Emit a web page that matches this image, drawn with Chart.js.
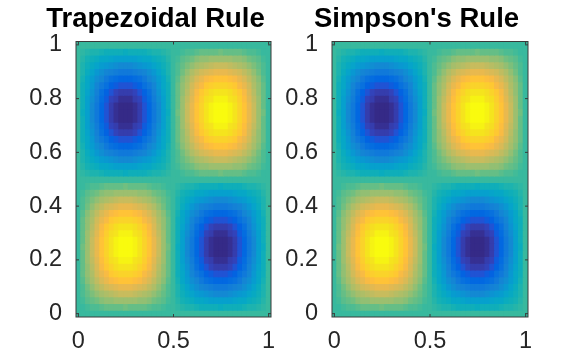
<!DOCTYPE html>
<html>
<head>
<meta charset="utf-8">
<script src="https://cdn.jsdelivr.net/npm/chart.js@4/dist/chart.umd.min.js"></script>
<style>
html, body { margin: 0; padding: 0; background: #fff; }
canvas { position: absolute; top: 0; }
#trapezoidal { left: 0; }
#simpson { left: 272px; }
</style>
</head>
<body>
<canvas id="simpson" width="292" height="357"></canvas>
<canvas id="trapezoidal" width="292" height="357"></canvas>
<script>
const gridX = [0,0.025,0.05,0.075,0.1,0.125,0.15,0.175,0.2,0.225,0.25,0.275,0.3,0.325,0.35,0.375,0.4,0.425,0.45,0.475,0.5,0.525,0.55,0.575,0.6,0.625,0.65,0.675,0.7,0.725,0.75,0.775,0.8,0.825,0.85,0.875,0.9,0.925,0.95,0.975,1];
const gridY = [1,0.975,0.95,0.925,0.9,0.875,0.85,0.825,0.8,0.775,0.75,0.725,0.7,0.675,0.65,0.625,0.6,0.575,0.55,0.525,0.5,0.475,0.45,0.425,0.4,0.375,0.35,0.325,0.3,0.275,0.25,0.225,0.2,0.175,0.15,0.125,0.1,0.075,0.05,0.025,0];
const xTickValues = [0, 0.5, 1];
const yTickValues = [0, 0.2, 0.4, 0.6, 0.8, 1];

// surface, percent of peak, top row first
const surfaceValues = [
[0,0,0,0,0,0,0,0,0,0,0,0,0,0,0,0,0,0,0,0,0,0,0,0,0,0,0,0,0,0,0,0,0,0,0,0,0,0,0,0,0],
[0,-2,-5,-7,-9,-11,-13,-14,-15,-15,-16,-15,-15,-14,-13,-11,-9,-7,-5,-2,0,2,5,7,9,11,13,14,15,15,16,15,15,14,13,11,9,7,5,2,0],
[0,-5,-10,-14,-18,-22,-25,-28,-29,-31,-31,-31,-29,-28,-25,-22,-18,-14,-10,-5,0,5,10,14,18,22,25,28,29,31,31,31,29,28,25,22,18,14,10,5,0],
[0,-7,-14,-21,-27,-32,-37,-40,-43,-45,-45,-45,-43,-40,-37,-32,-27,-21,-14,-7,0,7,14,21,27,32,37,40,43,45,45,45,43,40,37,32,27,21,14,7,0],
[0,-9,-18,-27,-35,-42,-48,-52,-56,-58,-59,-58,-56,-52,-48,-42,-35,-27,-18,-9,0,9,18,27,35,42,48,52,56,58,59,58,56,52,48,42,35,27,18,9,0],
[0,-11,-22,-32,-42,-50,-57,-63,-67,-70,-71,-70,-67,-63,-57,-50,-42,-32,-22,-11,0,11,22,32,42,50,57,63,67,70,71,70,67,63,57,50,42,32,22,11,0],
[0,-13,-25,-37,-48,-57,-65,-72,-77,-80,-81,-80,-77,-72,-65,-57,-48,-37,-25,-13,0,13,25,37,48,57,65,72,77,80,81,80,77,72,65,57,48,37,25,13,0],
[0,-14,-28,-40,-52,-63,-72,-79,-85,-88,-89,-88,-85,-79,-72,-63,-52,-40,-28,-14,0,14,28,40,52,63,72,79,85,88,89,88,85,79,72,63,52,40,28,14,0],
[0,-15,-29,-43,-56,-67,-77,-85,-90,-94,-95,-94,-90,-85,-77,-67,-56,-43,-29,-15,0,15,29,43,56,67,77,85,90,94,95,94,90,85,77,67,56,43,29,15,0],
[0,-15,-31,-45,-58,-70,-80,-88,-94,-98,-99,-98,-94,-88,-80,-70,-58,-45,-31,-15,0,15,31,45,58,70,80,88,94,98,99,98,94,88,80,70,58,45,31,15,0],
[0,-16,-31,-45,-59,-71,-81,-89,-95,-99,-100,-99,-95,-89,-81,-71,-59,-45,-31,-16,0,16,31,45,59,71,81,89,95,99,100,99,95,89,81,71,59,45,31,16,0],
[0,-15,-31,-45,-58,-70,-80,-88,-94,-98,-99,-98,-94,-88,-80,-70,-58,-45,-31,-15,0,15,31,45,58,70,80,88,94,98,99,98,94,88,80,70,58,45,31,15,0],
[0,-15,-29,-43,-56,-67,-77,-85,-90,-94,-95,-94,-90,-85,-77,-67,-56,-43,-29,-15,0,15,29,43,56,67,77,85,90,94,95,94,90,85,77,67,56,43,29,15,0],
[0,-14,-28,-40,-52,-63,-72,-79,-85,-88,-89,-88,-85,-79,-72,-63,-52,-40,-28,-14,0,14,28,40,52,63,72,79,85,88,89,88,85,79,72,63,52,40,28,14,0],
[0,-13,-25,-37,-48,-57,-65,-72,-77,-80,-81,-80,-77,-72,-65,-57,-48,-37,-25,-13,0,13,25,37,48,57,65,72,77,80,81,80,77,72,65,57,48,37,25,13,0],
[0,-11,-22,-32,-42,-50,-57,-63,-67,-70,-71,-70,-67,-63,-57,-50,-42,-32,-22,-11,0,11,22,32,42,50,57,63,67,70,71,70,67,63,57,50,42,32,22,11,0],
[0,-9,-18,-27,-35,-42,-48,-52,-56,-58,-59,-58,-56,-52,-48,-42,-35,-27,-18,-9,0,9,18,27,35,42,48,52,56,58,59,58,56,52,48,42,35,27,18,9,0],
[0,-7,-14,-21,-27,-32,-37,-40,-43,-45,-45,-45,-43,-40,-37,-32,-27,-21,-14,-7,0,7,14,21,27,32,37,40,43,45,45,45,43,40,37,32,27,21,14,7,0],
[0,-5,-10,-14,-18,-22,-25,-28,-29,-31,-31,-31,-29,-28,-25,-22,-18,-14,-10,-5,0,5,10,14,18,22,25,28,29,31,31,31,29,28,25,22,18,14,10,5,0],
[0,-2,-5,-7,-9,-11,-13,-14,-15,-15,-16,-15,-15,-14,-13,-11,-9,-7,-5,-2,0,2,5,7,9,11,13,14,15,15,16,15,15,14,13,11,9,7,5,2,0],
[0,0,0,0,0,0,0,0,0,0,0,0,0,0,0,0,0,0,0,0,0,0,0,0,0,0,0,0,0,0,0,0,0,0,0,0,0,0,0,0,0],
[0,2,5,7,9,11,13,14,15,15,16,15,15,14,13,11,9,7,5,2,0,-2,-5,-7,-9,-11,-13,-14,-15,-15,-16,-15,-15,-14,-13,-11,-9,-7,-5,-2,0],
[0,5,10,14,18,22,25,28,29,31,31,31,29,28,25,22,18,14,10,5,0,-5,-10,-14,-18,-22,-25,-28,-29,-31,-31,-31,-29,-28,-25,-22,-18,-14,-10,-5,0],
[0,7,14,21,27,32,37,40,43,45,45,45,43,40,37,32,27,21,14,7,0,-7,-14,-21,-27,-32,-37,-40,-43,-45,-45,-45,-43,-40,-37,-32,-27,-21,-14,-7,0],
[0,9,18,27,35,42,48,52,56,58,59,58,56,52,48,42,35,27,18,9,0,-9,-18,-27,-35,-42,-48,-52,-56,-58,-59,-58,-56,-52,-48,-42,-35,-27,-18,-9,0],
[0,11,22,32,42,50,57,63,67,70,71,70,67,63,57,50,42,32,22,11,0,-11,-22,-32,-42,-50,-57,-63,-67,-70,-71,-70,-67,-63,-57,-50,-42,-32,-22,-11,0],
[0,13,25,37,48,57,65,72,77,80,81,80,77,72,65,57,48,37,25,13,0,-13,-25,-37,-48,-57,-65,-72,-77,-80,-81,-80,-77,-72,-65,-57,-48,-37,-25,-13,0],
[0,14,28,40,52,63,72,79,85,88,89,88,85,79,72,63,52,40,28,14,0,-14,-28,-40,-52,-63,-72,-79,-85,-88,-89,-88,-85,-79,-72,-63,-52,-40,-28,-14,0],
[0,15,29,43,56,67,77,85,90,94,95,94,90,85,77,67,56,43,29,15,0,-15,-29,-43,-56,-67,-77,-85,-90,-94,-95,-94,-90,-85,-77,-67,-56,-43,-29,-15,0],
[0,15,31,45,58,70,80,88,94,98,99,98,94,88,80,70,58,45,31,15,0,-15,-31,-45,-58,-70,-80,-88,-94,-98,-99,-98,-94,-88,-80,-70,-58,-45,-31,-15,0],
[0,16,31,45,59,71,81,89,95,99,100,99,95,89,81,71,59,45,31,16,0,-16,-31,-45,-59,-71,-81,-89,-95,-99,-100,-99,-95,-89,-81,-71,-59,-45,-31,-16,0],
[0,15,31,45,58,70,80,88,94,98,99,98,94,88,80,70,58,45,31,15,0,-15,-31,-45,-58,-70,-80,-88,-94,-98,-99,-98,-94,-88,-80,-70,-58,-45,-31,-15,0],
[0,15,29,43,56,67,77,85,90,94,95,94,90,85,77,67,56,43,29,15,0,-15,-29,-43,-56,-67,-77,-85,-90,-94,-95,-94,-90,-85,-77,-67,-56,-43,-29,-15,0],
[0,14,28,40,52,63,72,79,85,88,89,88,85,79,72,63,52,40,28,14,0,-14,-28,-40,-52,-63,-72,-79,-85,-88,-89,-88,-85,-79,-72,-63,-52,-40,-28,-14,0],
[0,13,25,37,48,57,65,72,77,80,81,80,77,72,65,57,48,37,25,13,0,-13,-25,-37,-48,-57,-65,-72,-77,-80,-81,-80,-77,-72,-65,-57,-48,-37,-25,-13,0],
[0,11,22,32,42,50,57,63,67,70,71,70,67,63,57,50,42,32,22,11,0,-11,-22,-32,-42,-50,-57,-63,-67,-70,-71,-70,-67,-63,-57,-50,-42,-32,-22,-11,0],
[0,9,18,27,35,42,48,52,56,58,59,58,56,52,48,42,35,27,18,9,0,-9,-18,-27,-35,-42,-48,-52,-56,-58,-59,-58,-56,-52,-48,-42,-35,-27,-18,-9,0],
[0,7,14,21,27,32,37,40,43,45,45,45,43,40,37,32,27,21,14,7,0,-7,-14,-21,-27,-32,-37,-40,-43,-45,-45,-45,-43,-40,-37,-32,-27,-21,-14,-7,0],
[0,5,10,14,18,22,25,28,29,31,31,31,29,28,25,22,18,14,10,5,0,-5,-10,-14,-18,-22,-25,-28,-29,-31,-31,-31,-29,-28,-25,-22,-18,-14,-10,-5,0],
[0,2,5,7,9,11,13,14,15,15,16,15,15,14,13,11,9,7,5,2,0,-2,-5,-7,-9,-11,-13,-14,-15,-15,-16,-15,-15,-14,-13,-11,-9,-7,-5,-2,0],
[0,0,0,0,0,0,0,0,0,0,0,0,0,0,0,0,0,0,0,0,0,0,0,0,0,0,0,0,0,0,0,0,0,0,0,0,0,0,0,0,0]
];

// parula, 64 steps
const parula = [
[0.2081,0.1663,0.5292],[0.2116,0.1898,0.5777],[0.2123,0.2138,0.6270],[0.2081,0.2386,0.6771],
[0.1959,0.2645,0.7279],[0.1707,0.2919,0.7792],[0.1253,0.3242,0.8303],[0.0591,0.3598,0.8683],
[0.0117,0.3875,0.8820],[0.0060,0.4086,0.8828],[0.0165,0.4266,0.8786],[0.0329,0.4430,0.8720],
[0.0498,0.4586,0.8641],[0.0629,0.4737,0.8554],[0.0723,0.4887,0.8467],[0.0779,0.5040,0.8384],
[0.0793,0.5200,0.8312],[0.0749,0.5375,0.8263],[0.0641,0.5570,0.8240],[0.0488,0.5772,0.8228],
[0.0343,0.5966,0.8199],[0.0265,0.6137,0.8135],[0.0239,0.6287,0.8038],[0.0231,0.6418,0.7913],
[0.0228,0.6535,0.7768],[0.0267,0.6642,0.7607],[0.0384,0.6743,0.7436],[0.0590,0.6838,0.7254],
[0.0843,0.6928,0.7062],[0.1133,0.7015,0.6859],[0.1453,0.7098,0.6646],[0.1801,0.7177,0.6424],
[0.2178,0.7250,0.6193],[0.2586,0.7317,0.5954],[0.3022,0.7376,0.5712],[0.3482,0.7424,0.5473],
[0.3953,0.7459,0.5244],[0.4420,0.7481,0.5033],[0.4871,0.7491,0.4840],[0.5300,0.7491,0.4661],
[0.5709,0.7485,0.4494],[0.6099,0.7473,0.4337],[0.6473,0.7456,0.4188],[0.6834,0.7435,0.4044],
[0.7184,0.7411,0.3905],[0.7525,0.7384,0.3768],[0.7858,0.7356,0.3633],[0.8185,0.7327,0.3498],
[0.8507,0.7299,0.3360],[0.8824,0.7274,0.3217],[0.9139,0.7258,0.3063],[0.9450,0.7261,0.2886],
[0.9739,0.7314,0.2666],[0.9938,0.7455,0.2403],[0.9990,0.7653,0.2164],[0.9955,0.7861,0.1967],
[0.9880,0.8066,0.1794],[0.9789,0.8271,0.1633],[0.9697,0.8481,0.1475],[0.9626,0.8705,0.1309],
[0.9589,0.8949,0.1132],[0.9598,0.9218,0.0948],[0.9661,0.9514,0.0755],[0.9763,0.9831,0.0538]
];

const cellHalf = 0.0125;
const textColor = '#262626';
const frameColor = '#3a3a3a';

function cellColor(v) {
    const idx = Math.min(63, Math.floor((v + 100) / 200 * 64));
    const c = parula[idx];
    return `rgb(${Math.round(c[0] * 255)}, ${Math.round(c[1] * 255)}, ${Math.round(c[2] * 255)})`;
}

// box around the plot with short inward ticks on all four sides
const matlabBox = {
    id: 'matlabBox',
    beforeDraw(chart) {
        // the y scale box is narrower than its labels, widen the label clip
        chart.scales.y.left = 0;
    },
    afterDraw(chart) {
        const { ctx, chartArea: a, scales } = chart;
        const len = 3;
        ctx.save();
        ctx.strokeStyle = frameColor;
        ctx.lineWidth = 1;
        ctx.strokeRect(a.left, a.top, a.right - a.left, a.bottom - a.top);
        ctx.beginPath();
        xTickValues.forEach(v => {
            const px = scales.x.getPixelForValue(gridX.indexOf(v));
            ctx.moveTo(px, a.top);
            ctx.lineTo(px, a.top + len);
            ctx.moveTo(px, a.bottom);
            ctx.lineTo(px, a.bottom - len);
        });
        yTickValues.forEach(v => {
            const py = scales.y.getPixelForValue(v);
            ctx.moveTo(a.left, py);
            ctx.lineTo(a.left + len, py);
            ctx.moveTo(a.right, py);
            ctx.lineTo(a.right - len, py);
        });
        ctx.stroke();
        ctx.restore();
    }
};

function drawPanel(id, title, values, padLeft, yAxisWidth, padRight) {
    // one dataset per row of cells, each cell a floating bar
    const datasets = gridY.map((y, i) => ({
        data: gridX.map(() => [y - cellHalf, y + cellHalf]),
        backgroundColor: values[i].map(cellColor),
        borderWidth: 0,
        inflateAmount: 0.5,
        grouped: false,
        barPercentage: 1,
        categoryPercentage: 1
    }));

    new Chart(document.getElementById(id).getContext('2d'), {
        type: 'bar',
        data: { labels: gridX.map(String), datasets },
        options: {
            responsive: false,
            animation: false,
            layout: { padding: { left: padLeft, right: padRight, top: 0, bottom: 0 } },
            plugins: {
                legend: { display: false },
                tooltip: { enabled: false },
                title: {
                    display: true,
                    text: title,
                    color: '#000000',
                    font: { family: '"Liberation Sans"', size: 27.5, weight: 'bold', lineHeight: 1.2 },
                    padding: { top: 3.2, bottom: 5.3 }
                }
            },
            scales: {
                x: {
                    type: 'category',
                    offset: true,
                    grid: { display: false, drawTicks: false },
                    border: { display: false },
                    ticks: {
                        autoSkip: false,
                        maxRotation: 0,
                        minRotation: 0,
                        padding: 10,
                        color: textColor,
                        font: { family: '"Liberation Sans"', size: 23.5 },
                        callback: (v, i) => xTickValues.includes(gridX[i]) ? String(gridX[i]) : ''
                    },
                    afterFit: (s) => {
                        s.height = 40;
                        s.paddingLeft = 0;
                        s.paddingRight = 0;
                    }
                },
                y: {
                    type: 'linear',
                    min: -cellHalf,
                    max: 1 + cellHalf,
                    grid: { display: false, drawTicks: false },
                    border: { display: false },
                    ticks: {
                        padding: 14,
                        color: textColor,
                        font: { family: '"Liberation Sans"', size: 23.5 },
                        callback: (v) => String(v)
                    },
                    afterBuildTicks: (s) => { s.ticks = yTickValues.map(v => ({ value: v })); },
                    afterFit: (s) => {
                        s.width = yAxisWidth;
                        s.paddingTop = 0;
                        s.paddingBottom = 0;
                    }
                }
            }
        },
        plugins: [matlabBox]
    });
}

drawPanel('trapezoidal', 'Trapezoidal Rule', surfaceValues, 40, 36, 21);
drawPanel('simpson', "Simpson's Rule", surfaceValues, 33, 27, 36);
</script>
</body>
</html>
